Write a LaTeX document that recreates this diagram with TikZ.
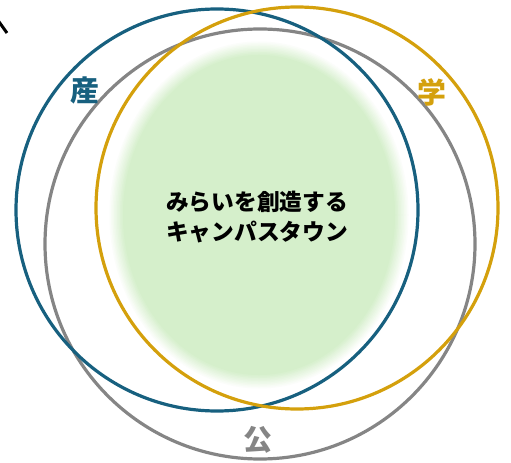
\documentclass[tikz,border=0pt]{standalone}
\usepackage{fontspec}
\usepackage{tikz}
\newfontfamily\jpfont{Noto Sans CJK JP}
\definecolor{sanblue}{HTML}{17607F}
\definecolor{gakugold}{HTML}{D4A00C}
\definecolor{kogray}{HTML}{858585}
\definecolor{blobc}{HTML}{D5EFCB}
\tikzset{
  ring/.style={circle,draw=#1,line width=3.2bp,inner sep=0pt,fill=none},
  sector/.style={font=\jpfont\bfseries\fontsize{29}{29}\selectfont,text=#1,inner sep=0pt},
  core/.style={font=\jpfont\bfseries\fontsize{22.8}{31}\selectfont,align=center,inner sep=0pt},
  tickline/.style={draw=black,line width=3bp},
}
\begin{document}
\begin{tikzpicture}[x=1bp,y=-1bp]
  \useasboundingbox (0,0) rectangle (511,463);
  % soft green area in the middle
  \foreach \k [evaluate=\k as \pc using 10*\k] in {0,...,10}
    \fill[blobc!\pc!white] (259,215) ellipse ({151-1.5*\k} and {175-1.5*\k});
  \node[ring=kogray,minimum size=430bp](ko) at (260,244){};
  \node[ring=sanblue,minimum size=402bp](san) at (217,210){};
  \node[ring=gakugold,minimum size=402bp](gaku) at (297,208){};
  \node[core](town) at (257,217){みらいを創造する\\キャンパスタウン};
  \node[sector=sanblue](lsan) at (85,90){産};
  \node[sector=gakugold](lgaku) at (432,92){学};
  \node[sector=kogray](lko) at (258,440){公};
  \coordinate (t1) at (-3,19);
  \coordinate (t2) at (7,33);
  \draw[tickline](t1)--(t2);
\end{tikzpicture}
\end{document}
